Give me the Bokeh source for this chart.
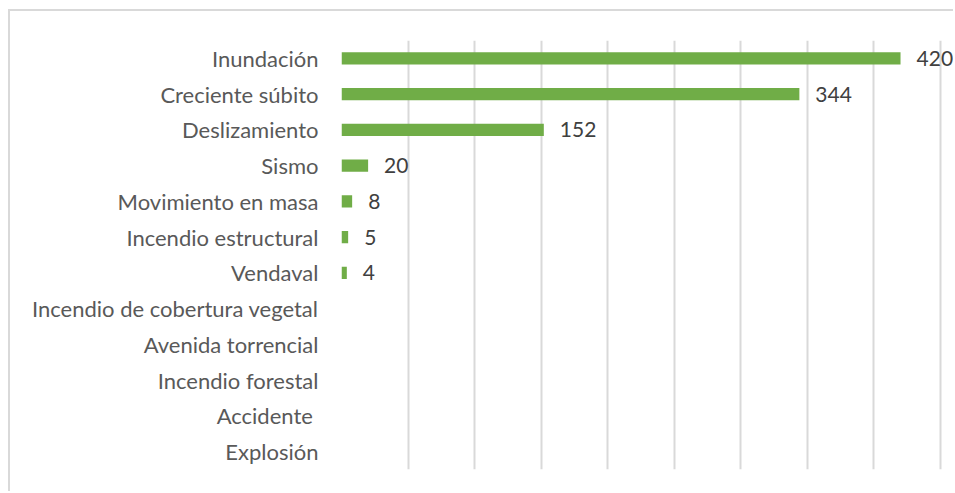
from bokeh.plotting import figure
from bokeh.models import ColumnDataSource, FactorRange, Range1d, FixedTicker
from bokeh.core.properties import value
from bokeh.embed import file_html
from bokeh.resources import INLINE

categories = ["Inundación", "Creciente súbito", "Deslizamiento", "Sismo",
              "Movimiento en masa", "Incendio estructural", "Vendaval",
              "Incendio de cobertura vegetal", "Avenida torrencial",
              "Incendio forestal", "Accidente ", "Explosión"]
values = [420, 344, 152, 20, 8, 5, 4, 0, 0, 0, 0, 0]
grid_ticks = [0, 50, 100, 150, 200, 250, 300, 350, 400, 450]

GREEN = "#70AD47"
GRID = "#D9D9D9"

src = ColumnDataSource(dict(cat=categories, val=values))
lab_cats = [c for c, v in zip(categories, values) if v > 0]
lab_vals = [v for v in values if v > 0]
lab_src = ColumnDataSource(dict(cat=lab_cats, val=lab_vals,
                                txt=[str(v) for v in lab_vals]))

p = figure(width=945, height=482, output_backend="svg", toolbar_location=None,
           y_range=FactorRange(factors=list(reversed(categories))),
           x_range=Range1d(0, 461.3),
           min_border_left=331, min_border_right=0,
           min_border_top=29, min_border_bottom=24)
p.styles = {"border-left": "2px solid #D9D9D9", "border-top": "2px solid #D9D9D9",
            "margin-left": "8px", "margin-top": "9px"}
p.outline_line_color = None
p.background_fill_color = "white"
p.border_fill_color = "white"

p.hbar(y="cat", right="val", left=0, height=0.336, source=src,
       fill_color=GREEN, line_color=None)

p.text(x="val", y="cat", text="txt", source=lab_src, x_offset=16,
       text_align="left", text_baseline="middle",
       text_font=value("Lato"), text_font_size="21px", text_color="#404040")

p.xaxis.visible = False
p.xgrid.ticker = FixedTicker(ticks=grid_ticks)
p.xgrid.grid_line_color = GRID
p.xgrid.grid_line_width = 2
p.ygrid.grid_line_color = None

p.yaxis.axis_line_color = None
p.yaxis.major_tick_line_color = None
p.yaxis.minor_tick_line_color = None
p.yaxis.major_tick_out = 0
p.yaxis.major_tick_in = 0
p.yaxis.major_label_standoff = 23
p.yaxis.major_label_text_font = "Lato"
p.yaxis.major_label_text_font_size = "22px"
p.yaxis.major_label_text_color = "#595959"

open("out.html", "w").write(file_html(p, INLINE))
